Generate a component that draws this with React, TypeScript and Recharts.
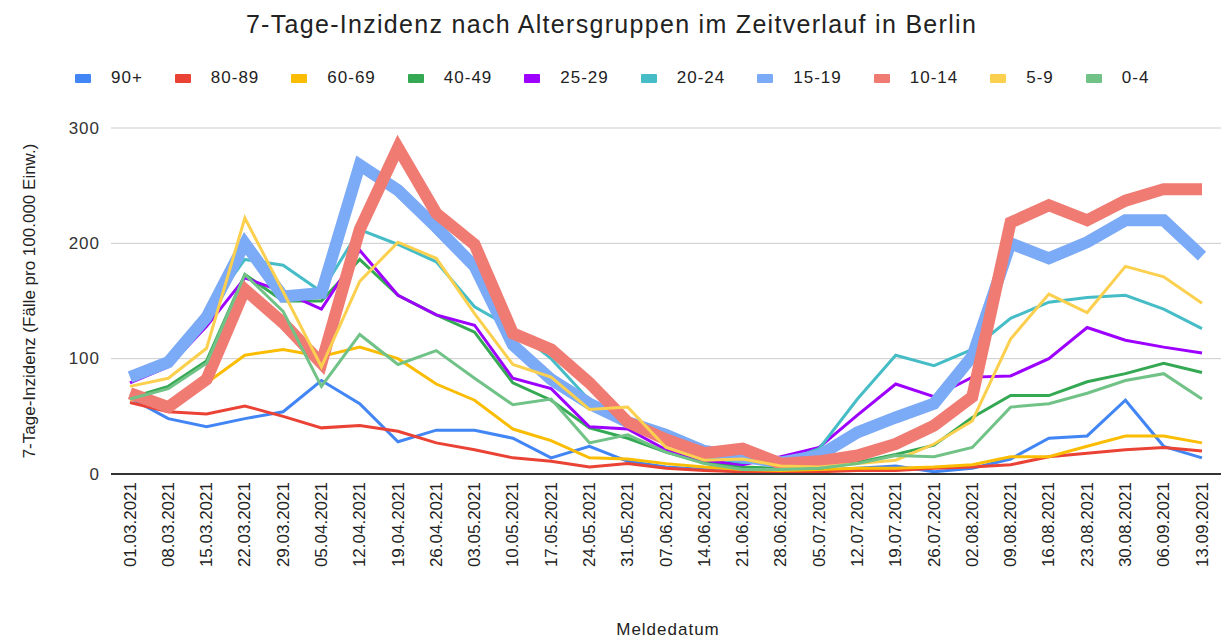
import * as React from 'react'
import { LineChart, Line, XAxis, YAxis, CartesianGrid } from 'recharts'

const FONT = '"Liberation Sans", Arial, sans-serif'

const dates = [
  '01.03.2021', '08.03.2021', '15.03.2021', '22.03.2021', '29.03.2021', '05.04.2021',
  '12.04.2021', '19.04.2021', '26.04.2021', '03.05.2021', '10.05.2021', '17.05.2021',
  '24.05.2021', '31.05.2021', '07.06.2021', '14.06.2021', '21.06.2021', '28.06.2021',
  '05.07.2021', '12.07.2021', '19.07.2021', '26.07.2021', '02.08.2021', '09.08.2021',
  '16.08.2021', '23.08.2021', '30.08.2021', '06.09.2021', '13.09.2021',
]

const age90 = [66, 48, 41, 48, 54, 81, 61, 28, 38, 38, 31, 14, 24, 11, 6, 4, 2, 2, 3, 5, 7, 2, 5, 13, 31, 33, 64, 24, 14]
const age80 = [62, 54, 52, 59, 50, 40, 42, 37, 27, 21, 14, 11, 6, 9, 5, 3, 2, 2, 2, 3, 3, 5, 6, 8, 15, 18, 21, 23, 20]
const age60 = [65, 60, 79, 103, 108, 102, 110, 100, 78, 64, 39, 29, 14, 13, 9, 6, 4, 3, 4, 5, 5, 6, 8, 15, 15, 24, 33, 33, 27]
const age40 = [66, 76, 98, 173, 150, 150, 186, 155, 138, 123, 79, 64, 40, 31, 19, 10, 6, 5, 5, 10, 17, 25, 49, 68, 68, 80, 87, 96, 88]
const age25 = [79, 93, 128, 170, 158, 143, 194, 155, 138, 129, 83, 74, 41, 39, 21, 12, 8, 15, 23, 51, 78, 67, 84, 85, 100, 127, 116, 110, 105]
const age20 = [87, 100, 140, 186, 181, 158, 212, 199, 184, 145, 126, 100, 64, 45, 30, 15, 10, 10, 22, 65, 103, 94, 108, 135, 149, 153, 155, 143, 126]
const age15 = [84, 97, 136, 200, 154, 157, 268, 246, 214, 180, 112, 82, 61, 45, 34, 20, 15, 10, 16, 36, 49, 61, 102, 200, 187, 201, 220, 220, 189]
const age10 = [70, 58, 82, 160, 131, 96, 212, 283, 226, 199, 122, 108, 79, 45, 30, 18, 22, 9, 11, 16, 26, 42, 67, 218, 233, 220, 237, 247, 247]
const age5 = [76, 83, 109, 222, 158, 93, 167, 201, 187, 139, 95, 84, 56, 58, 23, 12, 13, 7, 6, 9, 12, 26, 46, 117, 156, 140, 180, 171, 148]
const age0 = [65, 74, 96, 173, 141, 76, 121, 95, 107, 83, 60, 65, 27, 34, 19, 9, 4, 4, 5, 9, 16, 15, 23, 58, 61, 70, 81, 87, 65]

const yTicks = [0, 100, 200, 300]

const series = [
  { key: '90+', values: age90, color: '#4285f4', width: 3 },
  { key: '80-89', values: age80, color: '#ea4335', width: 3 },
  { key: '60-69', values: age60, color: '#fbbc04', width: 3 },
  { key: '40-49', values: age40, color: '#34a853', width: 3 },
  { key: '25-29', values: age25, color: '#9d00ff', width: 3 },
  { key: '20-24', values: age20, color: '#46bdc6', width: 3 },
  { key: '15-19', values: age15, color: '#7baaf7', width: 12 },
  { key: '10-14', values: age10, color: '#f07b72', width: 12 },
  { key: '5-9', values: age5, color: '#fcd04f', width: 3 },
  { key: '0-4', values: age0, color: '#71c287', width: 3 },
]

const data = dates.map((date, i) => {
  const row: Record<string, string | number> = { date }
  series.forEach((s) => {
    row[s.key] = s.values[i]
  })
  return row
})

function DateTick({ x, y, payload }: any) {
  return (
    <text
      x={x}
      y={y}
      transform={`rotate(-90, ${x}, ${y})`}
      textAnchor="end"
      dominantBaseline="central"
      fontSize={17}
      fontFamily={FONT}
      fill="#222"
    >
      {payload.value}
    </text>
  )
}

function ValueTick({ x, y, payload }: any) {
  return (
    <text
      x={x - 3}
      y={y}
      textAnchor="end"
      dominantBaseline="central"
      fontSize={17}
      fontFamily={FONT}
      letterSpacing={1}
      fill="#333"
    >
      {payload.value}
    </text>
  )
}

function LegendRow() {
  return (
    <div style={{ position: 'absolute', left: 75, top: 68, display: 'flex', alignItems: 'center', fontFamily: FONT, fontSize: 17, letterSpacing: 1, color: '#222', whiteSpace: 'nowrap' }}>
      {series.map((s) => (
        <div key={s.key} style={{ display: 'flex', alignItems: 'center', marginRight: 32 }}>
          <span style={{ display: 'inline-block', width: 16, height: 9, borderRadius: 1, background: s.color, marginRight: 20 }} />
          <span>{s.key}</span>
        </div>
      ))}
    </div>
  )
}

export default function App() {
  return (
    <div style={{ position: 'absolute', left: 0, top: 0, width: 1223, height: 642, background: '#fff', fontFamily: FONT }}>
      <div style={{ position: 'absolute', left: 0, width: 1223, top: 10, textAlign: 'center', fontSize: 25, letterSpacing: 1.3, color: '#222' }}>
        7-Tage-Inzidenz nach Altersgruppen im Zeitverlauf in Berlin
      </div>
      <LegendRow />
      <LineChart width={1223} height={642} data={data} margin={{ top: 128, right: 2, left: 51, bottom: 0 }}>
        <CartesianGrid vertical={false} stroke="#cccccc" />
        <XAxis
          dataKey="date"
          interval={0}
          height={168}
          tickLine={false}
          tick={<DateTick />}
          padding={{ left: 19, right: 19 }}
          axisLine={{ stroke: '#333', strokeWidth: 2 }}
        />
        <YAxis
          width={60}
          domain={[0, 300]}
          ticks={yTicks}
          axisLine={false}
          tickLine={false}
          tick={<ValueTick />}
        />
        {series.map((s) => (
          <Line
            key={s.key}
            type="linear"
            dataKey={s.key}
            stroke={s.color}
            strokeWidth={s.width}
            dot={false}
            activeDot={false}
            isAnimationActive={false}
          />
        ))}
      </LineChart>
      <div style={{ position: 'absolute', left: 30, top: 301, transform: 'translate(-50%, -50%) rotate(-90deg)', fontSize: 17, color: '#222', whiteSpace: 'nowrap' }}>
        7-Tage-Inzidenz (Fälle pro 100.000 Einw.)
      </div>
      <div style={{ position: 'absolute', left: 0, width: 1336, top: 620, textAlign: 'center', fontSize: 17, letterSpacing: 1, color: '#222' }}>
        Meldedatum
      </div>
    </div>
  )
}
